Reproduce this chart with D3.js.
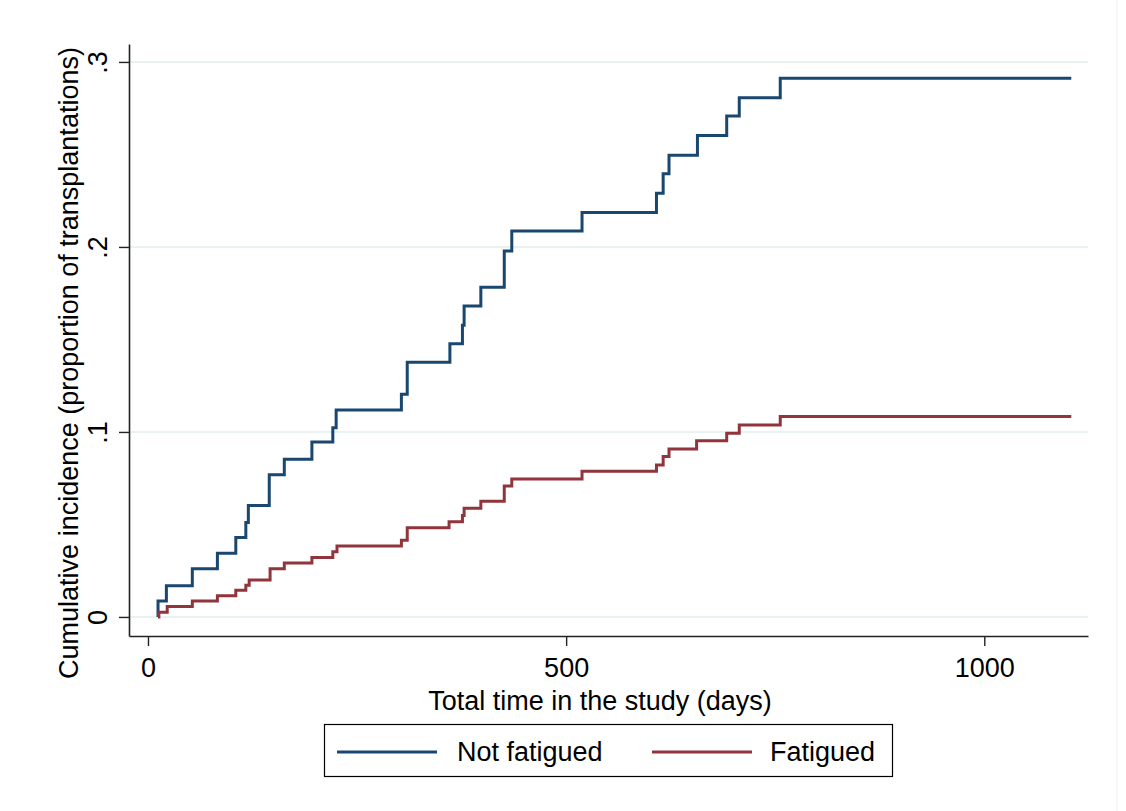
<!DOCTYPE html>
<html>
<head>
<meta charset="utf-8">
<script src="https://cdn.jsdelivr.net/npm/d3@7"></script>
<style>
  body { margin: 0; background: #fff; }
  svg text { font-family: "Liberation Sans", Arial, sans-serif; fill: #000; }
</style>
</head>
<body>
<svg id="chart" width="1126" height="811"></svg>
<script>
// step times (days) and cumulative incidence
const notFatiguedDays = [12, 12, 22, 53, 83, 105, 117, 120, 145, 163, 196, 221, 225, 303, 310, 361, 376, 378, 398, 426, 435, 519, 608, 616, 623, 657, 692, 707, 756, 1104];
const notFatiguedCI = [0, 0.0086, 0.0169, 0.026, 0.0344, 0.0429, 0.051, 0.0602, 0.0768, 0.0852, 0.0946, 0.1023, 0.1119, 0.1204, 0.1377, 0.1477, 0.1577, 0.1681, 0.1782, 0.1978, 0.2086, 0.2186, 0.229, 0.2396, 0.2495, 0.2602, 0.2708, 0.2807, 0.2912, 0.2912];

const fatiguedDays = [12, 13, 23, 53, 83, 105, 117, 121, 146, 163, 196, 221, 226, 303, 310, 360, 376, 378, 398, 426, 435, 519, 608, 616, 623, 656, 692, 707, 756, 1104];
const fatiguedCI = [0, 0.0025, 0.0056, 0.0086, 0.0115, 0.0144, 0.0171, 0.02, 0.026, 0.0292, 0.0321, 0.0353, 0.0384, 0.0414, 0.0482, 0.0514, 0.0548, 0.0588, 0.0625, 0.0708, 0.0746, 0.0787, 0.0822, 0.0867, 0.0908, 0.0953, 0.0993, 0.1038, 0.1083, 0.1083];

const xTicks = [0, 500, 1000];
const yTicks = [0, 0.1, 0.2, 0.3];
const yTickLabels = ["0", ".1", ".2", ".3"];
const seriesNames = ["Not fatigued", "Fatigued"];
const seriesColors = ["#1a476f", "#90353b"];

const svg = d3.select("#chart");
const fontSize = 27;

const x = d3.scaleLinear().domain([-22.7, 1124]).range([129, 1088]);
const y = d3.scaleLinear().domain([-0.0103, 0.3097]).range([636, 44]);

// faint outer border on the right
svg.append("line")
    .attr("x1", 1117).attr("x2", 1117).attr("y1", 0).attr("y2", 811)
    .attr("stroke", "#eeeeee").attr("stroke-width", 1);

// gridlines
svg.append("g")
    .selectAll("line")
    .data(yTicks)
    .enter()
    .append("line")
    .attr("x1", x.range()[0])
    .attr("x2", x.range()[1])
    .attr("y1", (d) => y(d))
    .attr("y2", (d) => y(d))
    .attr("stroke", "#eaf1f3")
    .attr("stroke-width", 2);

// series
const series = [
    { days: notFatiguedDays, ci: notFatiguedCI },
    { days: fatiguedDays, ci: fatiguedCI }
];

const line = d3.line()
    .x((d) => x(d[0]))
    .y((d) => y(d[1]))
    .curve(d3.curveStepAfter);

svg.append("g")
    .selectAll("path")
    .data(series)
    .enter()
    .append("path")
    .attr("d", (s) => line(s.days.map((d, i) => [d, s.ci[i]])))
    .attr("fill", "none")
    .attr("stroke", (s, i) => seriesColors[i])
    .attr("stroke-width", 3);

// axes
const xAxis = svg.append("g")
    .attr("transform", "translate(0," + y.range()[0] + ")")
    .call(d3.axisBottom(x).tickValues(xTicks).tickFormat(d3.format("d")).tickSize(10).tickSizeOuter(0).tickPadding(12));

xAxis.select(".domain").attr("stroke", "#222").attr("stroke-width", 1.6);
xAxis.selectAll(".tick line").attr("stroke", "#222").attr("stroke-width", 1.4);
xAxis.selectAll(".tick text")
    .style("font-size", fontSize + "px")
    .style("font-family", "'Liberation Sans', Arial, sans-serif")
    .attr("fill", "#000");

const yAxis = svg.append("g")
    .attr("transform", "translate(" + x.range()[0] + ",0)")
    .call(d3.axisLeft(y).tickValues(yTicks).tickFormat((d, i) => yTickLabels[i]).tickSize(10).tickSizeOuter(0));

yAxis.select(".domain").attr("stroke", "#222").attr("stroke-width", 1.6);
yAxis.selectAll(".tick line").attr("stroke", "#222").attr("stroke-width", 1.4);
yAxis.selectAll(".tick text")
    .attr("transform", "rotate(-90)")
    .attr("x", 0)
    .attr("y", -31)
    .attr("dy", "0.35em")
    .attr("text-anchor", "middle")
    .style("font-size", fontSize + "px")
    .style("font-family", "'Liberation Sans', Arial, sans-serif")
    .attr("fill", "#000");

// axis titles
svg.append("text")
    .attr("x", 600)
    .attr("y", 710)
    .attr("text-anchor", "middle")
    .style("font-size", fontSize + "px")
    .text("Total time in the study (days)");

svg.append("text")
    .attr("transform", "translate(78,363) rotate(-90)")
    .attr("text-anchor", "middle")
    .style("font-size", fontSize + "px")
    .text("Cumulative incidence (proportion of transplantations)");

// legend
const legend = svg.append("g").attr("id", "legend");

legend.append("rect")
    .attr("x", 324.5).attr("y", 724.5)
    .attr("width", 568).attr("height", 52)
    .attr("fill", "#fff")
    .attr("stroke", "#000")
    .attr("stroke-width", 1.2);

const legendX = [337, 652];
const legendItems = legend.selectAll("g.item")
    .data(seriesNames)
    .enter()
    .append("g")
    .attr("class", "item")
    .attr("transform", (d, i) => "translate(" + legendX[i] + ",752)");

legendItems.append("line")
    .attr("x1", 0).attr("x2", 100)
    .attr("y1", 0).attr("y2", 0)
    .attr("stroke", (d, i) => seriesColors[i])
    .attr("stroke-width", 3);

legendItems.append("text")
    .attr("x", (d, i) => i === 0 ? 120 : 118)
    .attr("y", 0)
    .attr("dy", "0.35em")
    .style("font-size", fontSize + "px")
    .text((d) => d);
</script>
</body>
</html>
